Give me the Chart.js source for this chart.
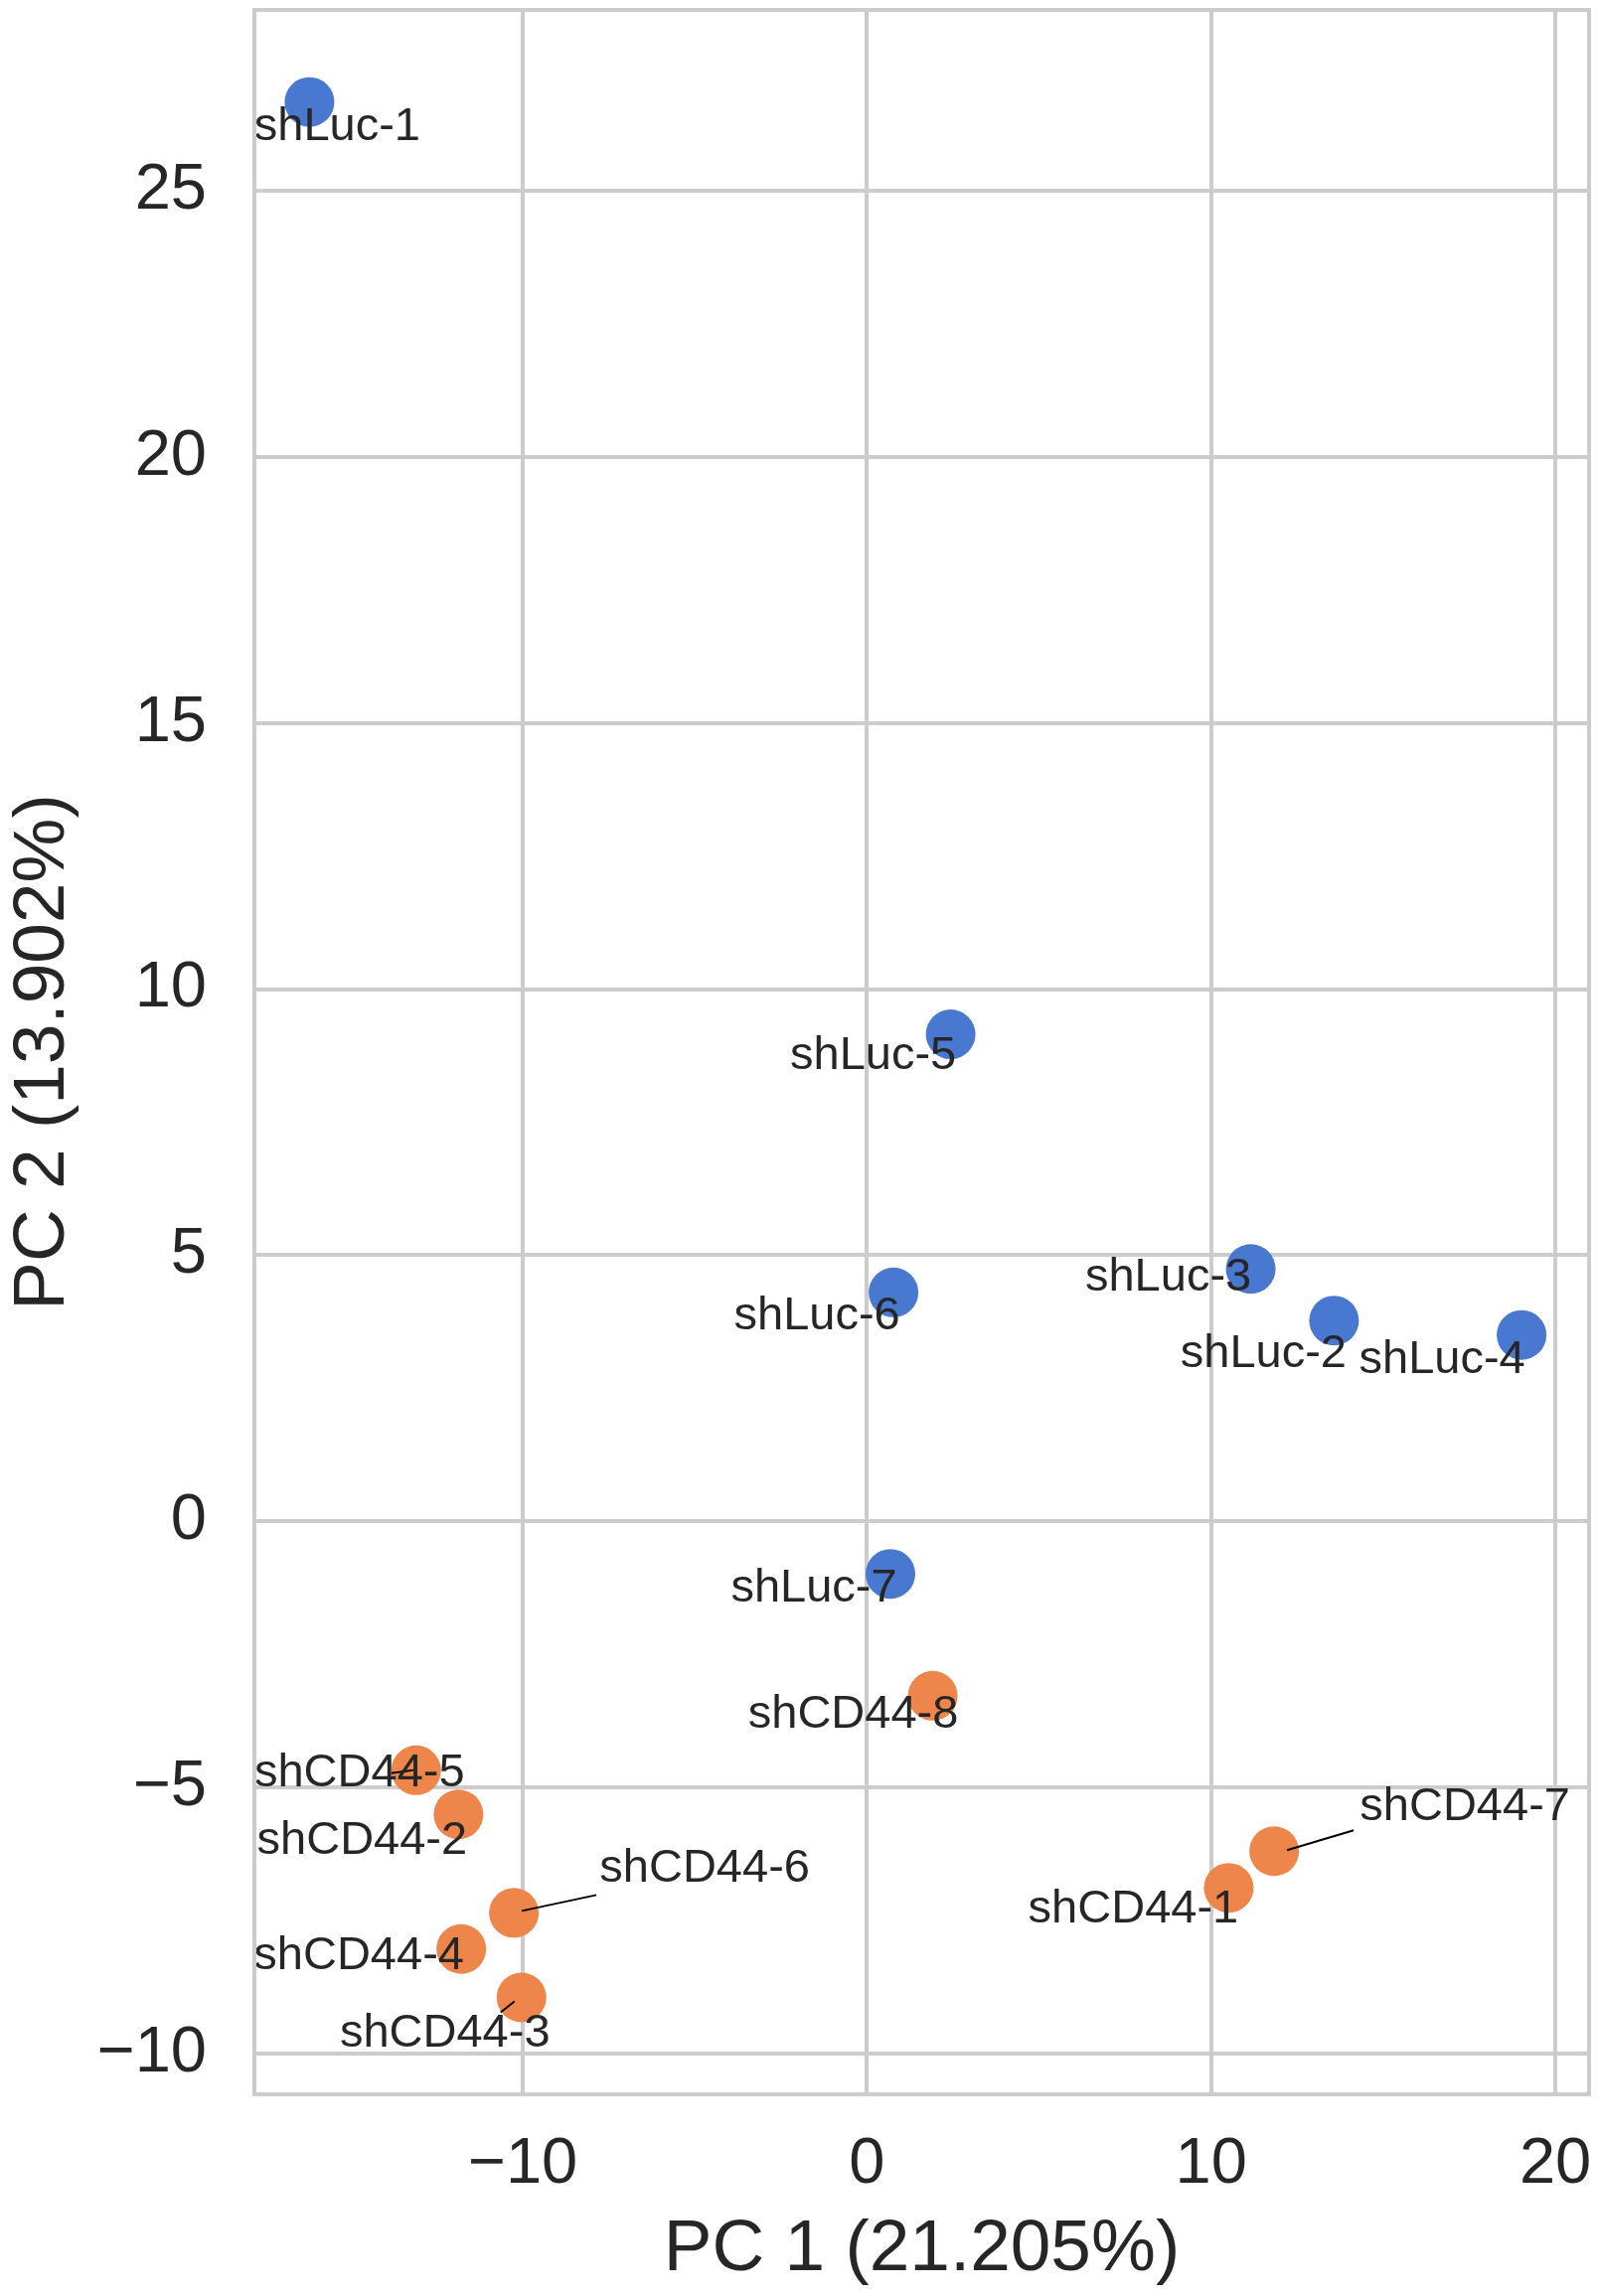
<!DOCTYPE html>
<html>
<head>
<meta charset="utf-8">
<script src="https://cdn.jsdelivr.net/npm/chart.js@4/dist/chart.umd.min.js"></script>
<style>
  html, body { margin: 0; padding: 0; background: #fff; }
  #wrap { width: 1607px; height: 2311px; }
</style>
</head>
<body>
<div id="wrap"><canvas id="pca" width="1607" height="2311"></canvas></div>
<script>
// sample names and PCA coordinates
var lucNames = ["shLuc-1", "shLuc-5", "shLuc-6", "shLuc-3", "shLuc-2", "shLuc-4", "shLuc-7"];
var lucPC1 = [-16.2, 2.43, 0.77, 11.15, 13.57, 19.02, 0.68];
var lucPC2 = [26.67, 9.15, 4.30, 4.74, 3.77, 3.50, -0.99];

var cdNames = ["shCD44-8", "shCD44-5", "shCD44-2", "shCD44-6", "shCD44-4", "shCD44-3", "shCD44-1", "shCD44-7"];
var cdPC1 = [1.91, -13.1, -11.87, -10.26, -11.79, -10.04, 10.51, 11.83];
var cdPC2 = [-3.28, -4.68, -5.51, -7.36, -8.04, -8.95, -6.89, -6.20];

var xTicks = [-10, 0, 10, 20];
var yTicks = [-10, -5, 0, 5, 10, 15, 20, 25];

// label placement (pixel offsets from the point, like adjustText output)
var labelOffset = {
    "shLuc-1": [28, 25], "shLuc-5": [-78, 22], "shLuc-6": [-77, 24], "shLuc-3": [-83, 9],
    "shLuc-2": [-71, 34], "shLuc-4": [-80, 25], "shLuc-7": [-77, 15],
    "shCD44-8": [-80, 19], "shCD44-5": [-57, 3], "shCD44-2": [-97, 27], "shCD44-6": [192, -44],
    "shCD44-4": [-103, 7], "shCD44-3": [-77, 37], "shCD44-1": [-96, 22], "shCD44-7": [192, -44]
};
var leaderLine = {
    "shCD44-6": [8, -2, 83, -18],
    "shCD44-7": [13, -1, 80, -21],
    "shCD44-3": [-21, 15, -7, 4],
    "shCD44-5": [-25, 3, -3, 0]
};

function toPoints(xs, ys, names) {
    var out = [];
    for (var i = 0; i < xs.length; i++) {
        out.push({x: xs[i], y: ys[i], name: names[i]});
    }
    return out;
}

function fmt(v) {
    return v < 0 ? "\u2212" + Math.abs(v) : String(v);
}

var FONT = "'Liberation Sans', Arial, Helvetica, sans-serif";
var INK = "#262626";
var GRID = "#cccccc";

var frame = {
    id: "frame",
    afterDraw: function (chart) {
        var a = chart.chartArea, ctx = chart.ctx;
        ctx.save();
        ctx.strokeStyle = GRID;
        ctx.lineWidth = 4;
        ctx.strokeRect(a.left, a.top, a.right - a.left, a.bottom - a.top);
        ctx.restore();
    }
};

var pointLabels = {
    id: "pointLabels",
    afterDatasetsDraw: function (chart) {
        var ctx = chart.ctx;
        ctx.save();
        ctx.font = "47px " + FONT;
        ctx.fillStyle = INK;
        ctx.textAlign = "center";
        ctx.textBaseline = "middle";
        chart.data.datasets.forEach(function (ds, di) {
            var meta = chart.getDatasetMeta(di);
            meta.data.forEach(function (el, i) {
                var name = ds.data[i].name;
                var ln = leaderLine[name];
                if (ln) {
                    ctx.strokeStyle = "#000";
                    ctx.lineWidth = 2;
                    ctx.beginPath();
                    ctx.moveTo(el.x + ln[0], el.y + ln[1]);
                    ctx.lineTo(el.x + ln[2], el.y + ln[3]);
                    ctx.stroke();
                }
                var off = labelOffset[name] || [0, 0];
                ctx.fillText(name, el.x + off[0], el.y + off[1]);
            });
        });
        ctx.restore();
    }
};

var ctx = document.getElementById("pca").getContext("2d");
new Chart(ctx, {
    type: "scatter",
    data: {
        datasets: [
            {
                label: "shLuc",
                data: toPoints(lucPC1, lucPC2, lucNames),
                backgroundColor: "#4878d0",
                borderWidth: 0,
                pointRadius: 25,
                pointHoverRadius: 25
            },
            {
                label: "shCD44",
                data: toPoints(cdPC1, cdPC2, cdNames),
                backgroundColor: "#ee854a",
                borderWidth: 0,
                pointRadius: 25,
                pointHoverRadius: 25
            }
        ]
    },
    options: {
        responsive: false,
        devicePixelRatio: 1,
        animation: false,
        layout: { autoPadding: false, padding: { top: 10, right: 8, left: 0, bottom: 0 } },
        plugins: {
            legend: { display: false },
            tooltip: { enabled: false }
        },
        scales: {
            x: {
                type: "linear",
                min: -17.8,
                max: 20.98,
                afterBuildTicks: function (scale) {
                    scale.ticks = xTicks.map(function (v) { return {value: v}; });
                },
                afterFit: function (scale) {
                    scale.height = 203;
                    scale.paddingLeft = 0;
                    scale.paddingRight = 0;
                },
                grid: { color: GRID, lineWidth: 4, drawTicks: false },
                border: { display: true, color: GRID, width: 4 },
                ticks: {
                    padding: 32,
                    color: INK,
                    font: { family: FONT, size: 65 },
                    maxRotation: 0,
                    callback: function (v) { return fmt(v); }
                },
                title: {
                    display: true,
                    text: "PC 1 (21.205%)",
                    color: INK,
                    font: { family: FONT, size: 73 },
                    padding: { top: 0, bottom: 2 }
                }
            },
            y: {
                type: "linear",
                min: -10.77,
                max: 28.4,
                afterBuildTicks: function (scale) {
                    scale.ticks = yTicks.map(function (v) { return {value: v}; });
                },
                afterFit: function (scale) {
                    scale.width = 256;
                    scale.paddingTop = 0;
                    scale.paddingBottom = 0;
                },
                grid: { color: GRID, lineWidth: 4, drawTicks: false },
                border: { display: true, color: GRID, width: 4 },
                ticks: {
                    padding: 48,
                    color: INK,
                    font: { family: FONT, size: 65 },
                    callback: function (v) { return fmt(v); }
                },
                title: {
                    display: true,
                    text: "PC 2 (13.902%)",
                    color: INK,
                    font: { family: FONT, size: 73 },
                    padding: { top: 0, bottom: 0 }
                }
            }
        }
    },
    plugins: [frame, pointLabels]
});
</script>
</body>
</html>
